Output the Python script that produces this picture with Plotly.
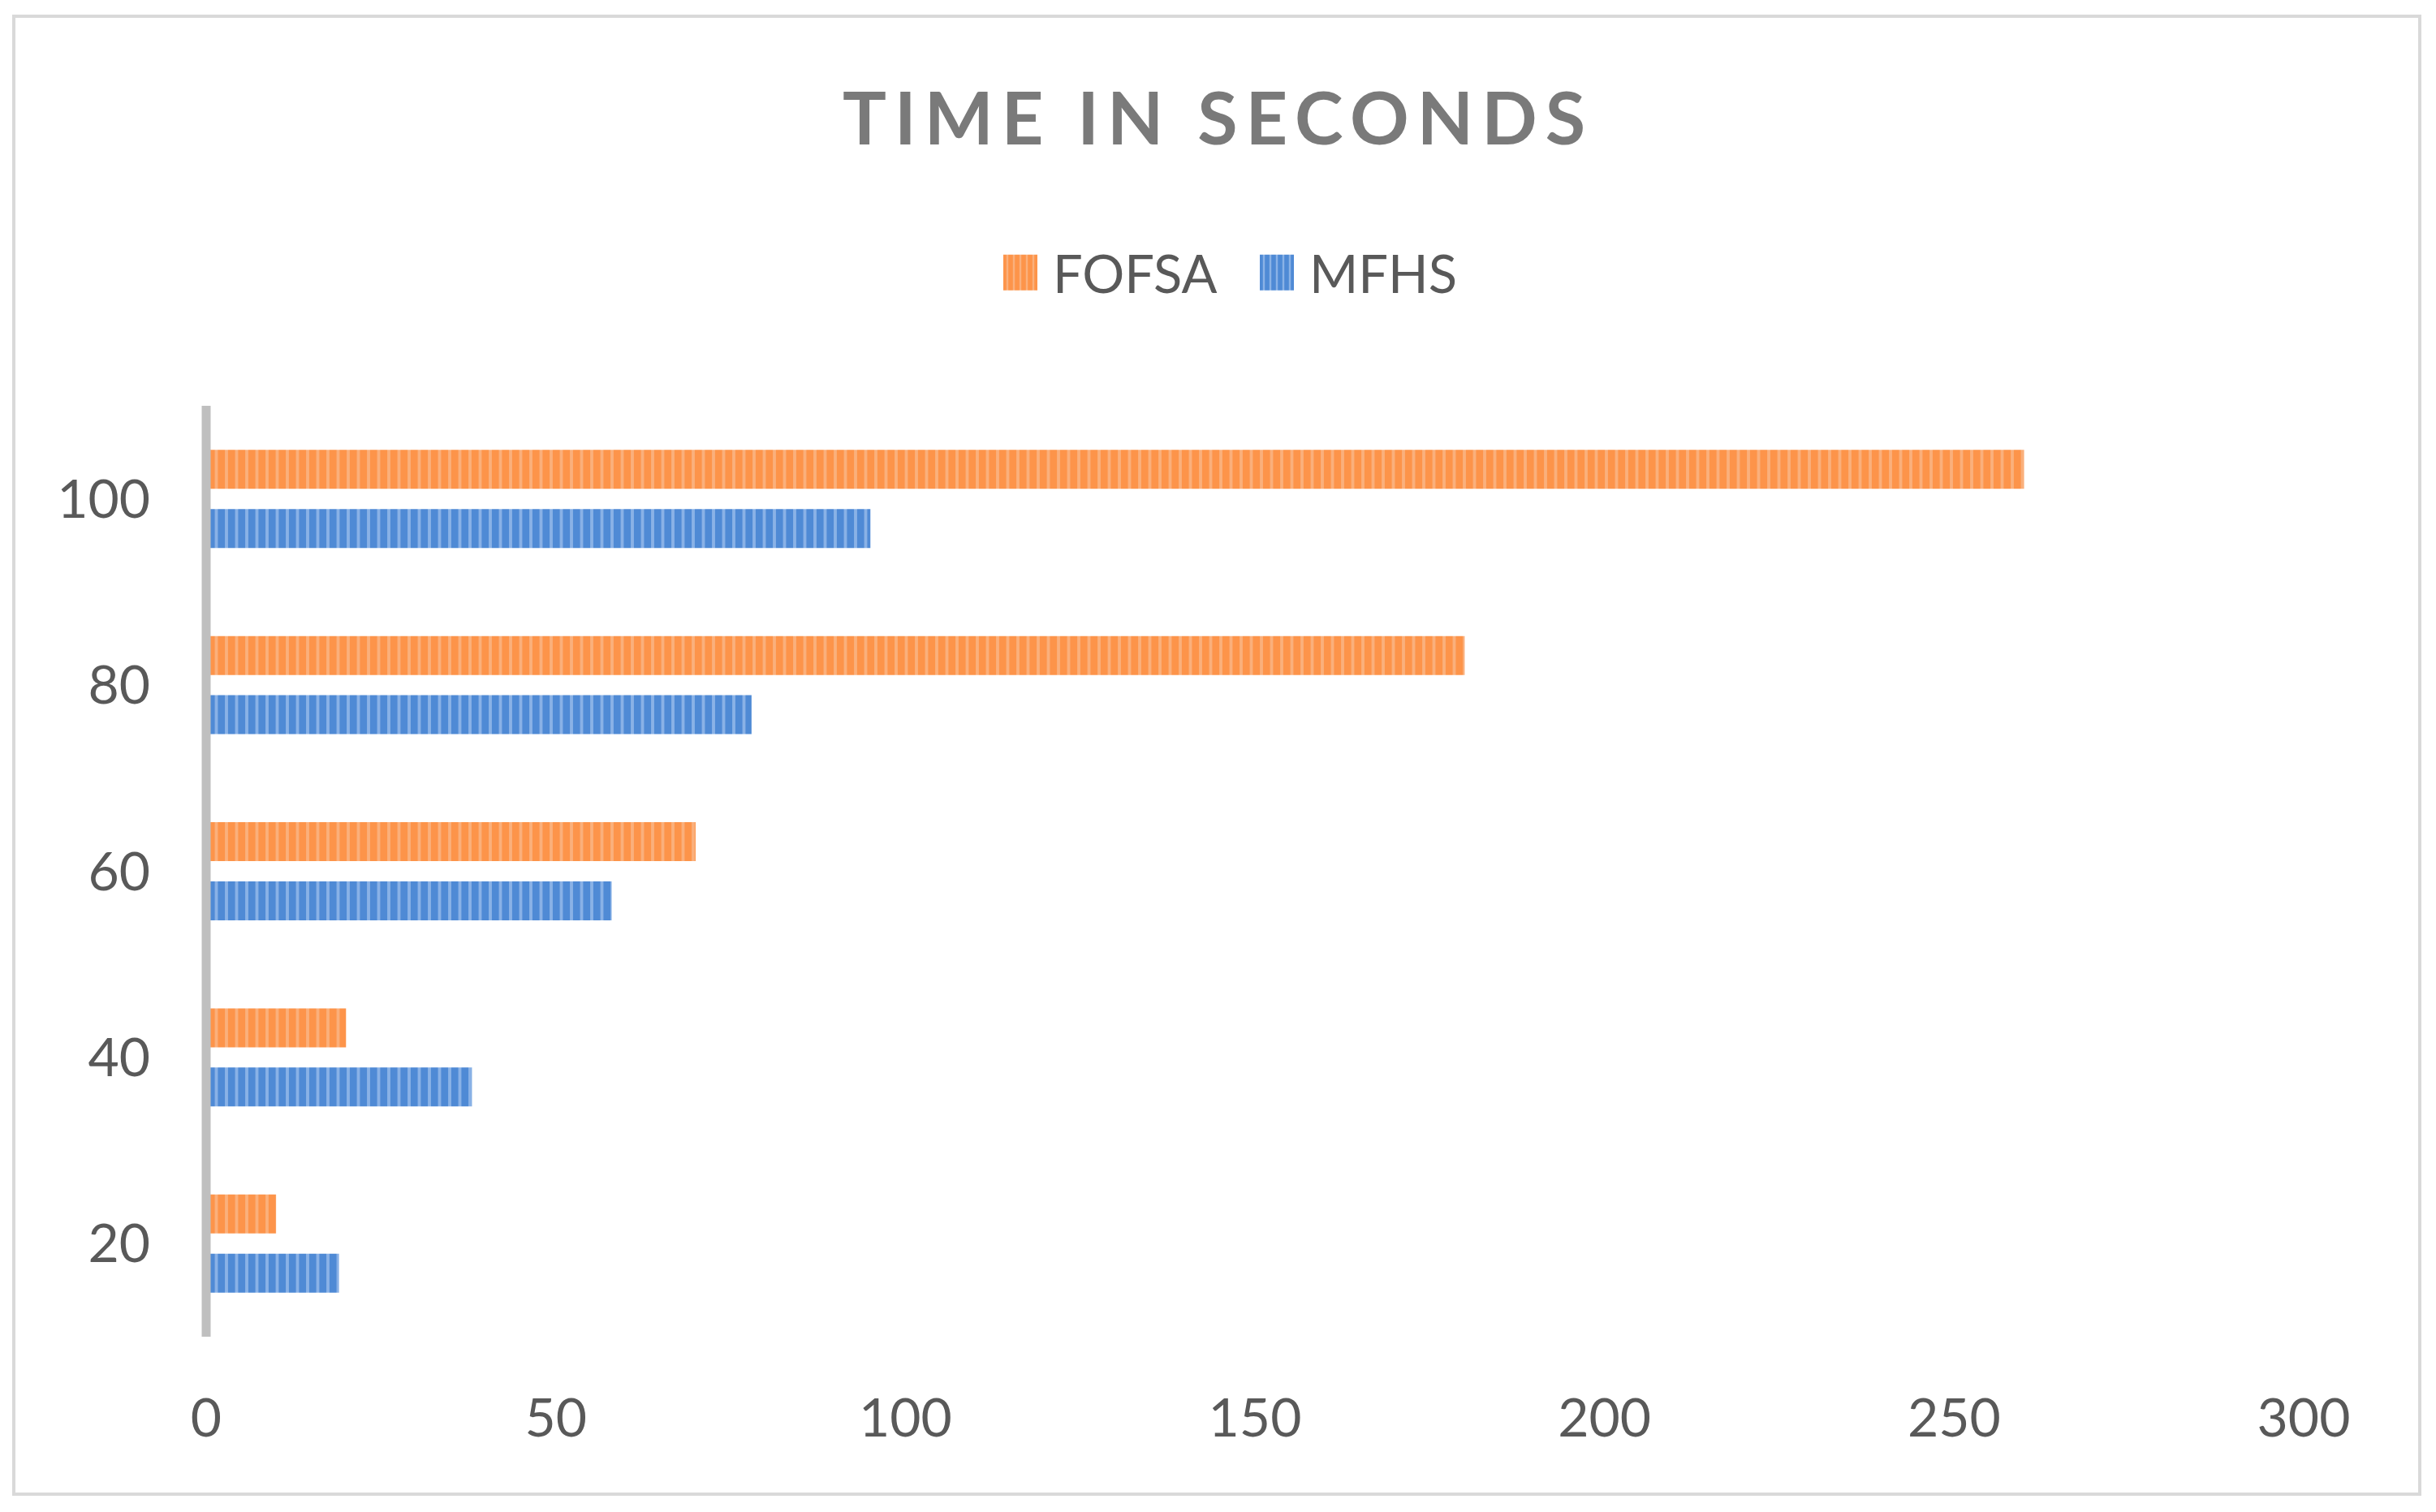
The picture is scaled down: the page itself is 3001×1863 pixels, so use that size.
import plotly.graph_objects as go

# ---- data ----
categories = ["20", "40", "60", "80", "100"]
fofsa = [10, 20, 70, 180, 260]
mfhs = [19, 38, 58, 78, 95]
x_ticks = [0, 50, 100, 150, 200, 250, 300]
series_names = ["FOFSA", "MFHS"]
title_text = "TIME IN SECONDS"

# ---- geometry ----
W, H = 3001, 1863
L, R, T, B = 254, 163, 500, 216
pw, ph = W - L - R, H - T - B

FONT = "Lato, 'Open Sans', sans-serif"
TXT = "#595959"

fig = go.Figure()
fig.add_trace(go.Bar(
    name=series_names[1], y=categories, x=mfhs, orientation="h",
    marker=dict(color="#1362C4", line=dict(width=0),
                pattern=dict(shape="|", fgcolor="#1362C4", bgcolor="#8AB2E6",
                             size=12.5, solidity=0.7)),
))
fig.add_trace(go.Bar(
    name=series_names[0], y=categories, x=fofsa, orientation="h",
    marker=dict(color="#FF7818", line=dict(width=0),
                pattern=dict(shape="|", fgcolor="#FF7818", bgcolor="#FAB07C",
                             size=12.5, solidity=0.7)),
))

def px_to_paper_x(px):
    return (px - L) / pw

def px_to_paper_y(py):
    return (H - B - py) / ph

shapes = [
    # outer chart frame
    dict(type="rect", xref="paper", yref="paper",
         x0=px_to_paper_x(17), x1=px_to_paper_x(2981),
         y0=px_to_paper_y(1841), y1=px_to_paper_y(20),
         line=dict(color="#D9D9D9", width=4), fillcolor="rgba(0,0,0,0)", layer="below"),
    # vertical category axis line at x = 0 (left edge of plot area)
    dict(type="line", xref="paper", yref="paper", x0=0, x1=0, y0=0, y1=1,
         line=dict(color="#BFBFBF", width=11), layer="above"),
]

fig.update_layout(
    width=W, height=H,
    margin=dict(l=L, r=R, t=T, b=B, pad=0),
    paper_bgcolor="white", plot_bgcolor="white",
    barmode="group", bargap=0.364, bargroupgap=0.342,
    title=dict(
        text='<span style="letter-spacing:10px">' + title_text + '</span>',
        x=0.5, xref="container", xanchor="center",
        y=1 - 146 / H, yref="container", yanchor="middle",
        font=dict(family=FONT, size=90, color="#7A7A7A", weight="bold"),
    ),
    legend=dict(
        orientation="h", traceorder="reversed",
        x=px_to_paper_x(1533), xanchor="center",
        y=px_to_paper_y(336), yanchor="middle",
        font=dict(family=FONT, size=65, color=TXT),
        itemwidth=70, entrywidth=231, entrywidthmode="pixels",
        bgcolor="rgba(0,0,0,0)",
    ),
    xaxis=dict(
        range=[0, 300], tickvals=x_ticks, ticktext=[str(v) for v in x_ticks],
        showgrid=False, zeroline=False, showline=False, ticks="",
        tickfont=dict(family=FONT, size=66, color=TXT),
        ticklabelstandoff=56, fixedrange=True,
    ),
    yaxis=dict(
        type="category", categoryorder="array", categoryarray=categories,
        showgrid=False, zeroline=False, showline=False, ticks="",
        tickfont=dict(family=FONT, size=66, color=TXT),
        ticklabelstandoff=68, fixedrange=True,
    ),
    shapes=shapes,
    showlegend=True,
)

post_script = """
document.body.style.margin = '0';
document.body.style.overflow = 'hidden';
var gd = document.getElementById('{plot_id}');
function bigSwatch(){
  gd.querySelectorAll('.legend .legendpoints path').forEach(function(p){
    p.setAttribute('d','M21,22H-21V-22H21Z');
  });
}
bigSwatch();
gd.on('plotly_afterplot', bigSwatch);
"""

fig.write_html("out.html", post_script=post_script, config={"displayModeBar": False})
